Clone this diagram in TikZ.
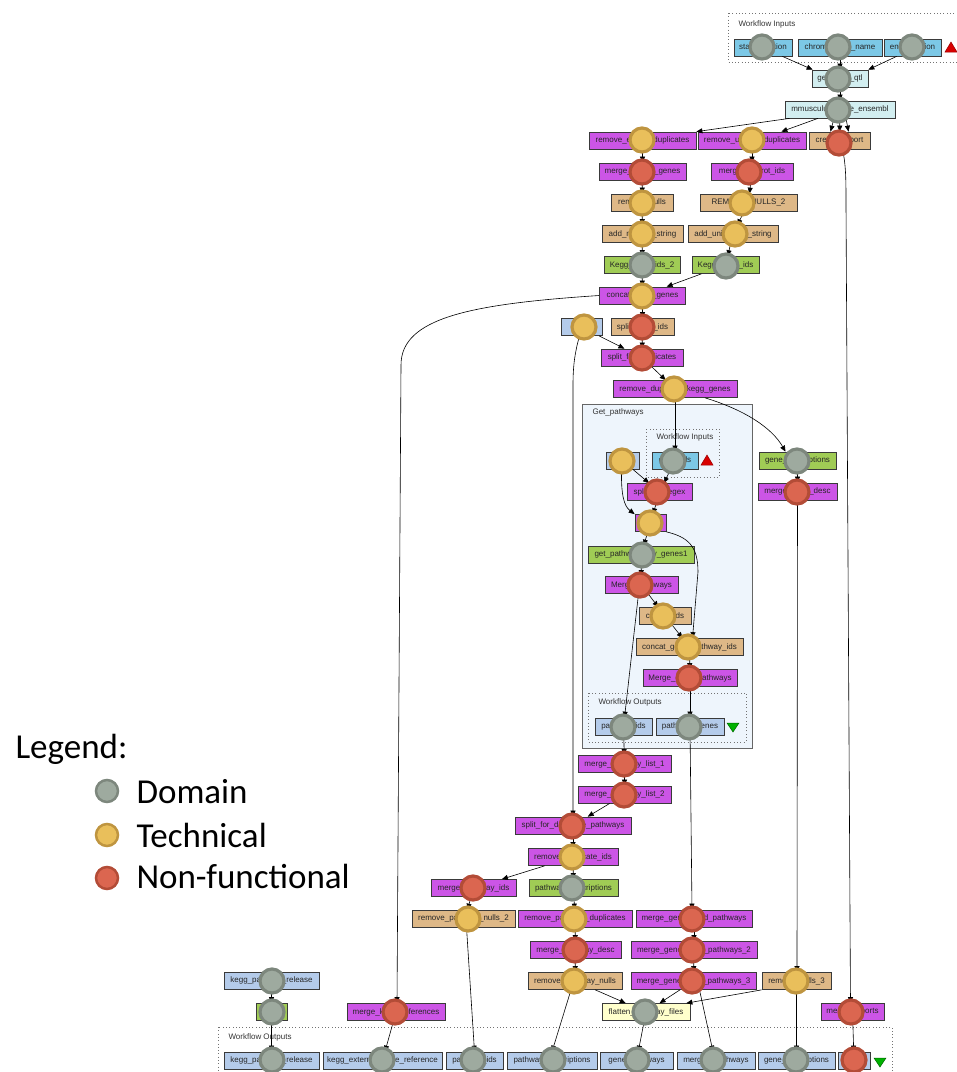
\documentclass[tikz,border=0pt]{standalone}
\usepackage{fontspec}
\setmainfont{Liberation Sans}
\newfontfamily\legendfont{Carlito}
\usetikzlibrary{arrows.meta}
\definecolor{procpurple}{HTML}{CC55E6}
\definecolor{proctan}{HTML}{DEB887}
\definecolor{procgreen}{HTML}{A0CC55}
\definecolor{inblue}{HTML}{7CC8E6}
\definecolor{lightcyan}{HTML}{D2EEF0}
\definecolor{outblue}{HTML}{B4CBEA}
\definecolor{flatyellow}{HTML}{FFFFCC}
\definecolor{boxline}{HTML}{3A3A3A}
\definecolor{subfill}{HTML}{EEF5FC}
\definecolor{domfill}{HTML}{9EAA9F}
\definecolor{domline}{HTML}{7D877D}
\definecolor{techfill}{HTML}{E9BF5B}
\definecolor{techline}{HTML}{BF9540}
\definecolor{nffill}{HTML}{DB6650}
\definecolor{nfline}{HTML}{B34C37}

\begin{document}
\begin{tikzpicture}[x=1pt,y=-1pt,
  box/.style={draw=boxline, line width=0.7pt, minimum height=17pt, inner sep=0pt, font=\fontsize{8}{9}\selectfont, text=black!85},
  purpbox/.style={box, fill=procpurple},
  tanbox/.style={box, fill=proctan},
  greenbox/.style={box, fill=procgreen},
  inbox/.style={box, fill=inblue},
  cyanbox/.style={box, fill=lightcyan},
  outbox/.style={box, fill=outblue},
  flatbox/.style={box, fill=flatyellow},
  domcirc/.style={circle, draw=domline, fill=domfill, line width=3.2pt, minimum size=24pt, inner sep=0pt},
  techcirc/.style={domcirc, draw=techline, fill=techfill},
  nfcirc/.style={domcirc, draw=nfline, fill=nffill},
  frame/.style={draw=black!55, line width=0.8pt, dash pattern=on 0.8pt off 2.5pt},
  framelabel/.style={anchor=base west, font=\fontsize{8}{9}\selectfont, text=black!80},
  flow/.style={-{Triangle[length=6pt,width=5pt]}, line width=0.6pt, draw=black},
  legtext/.style={anchor=base west, font=\legendfont\fontsize{35}{40}\selectfont}]
\useasboundingbox (0,0) rectangle (957,1072);

%% frames and the nested workflow
\draw[frame] (728,13) rectangle (962,62);
\node[framelabel] (wfin) at (735,26) {Workflow Inputs};
\draw[draw=black!60, fill=subfill, line width=0.8pt] (582,404) rectangle (752,748);
\node[framelabel] (gp) at (589,414) {Get\_pathways};
\draw[frame] (646,429) rectangle (719,477);
\node[framelabel] (gpin) at (653,439) {Workflow Inputs};
\draw[frame] (588,693) rectangle (746,742);
\node[framelabel] (gpout) at (595,704) {Workflow Outputs};
\draw[frame] (218,1027) rectangle (892,1085);
\node[framelabel] (wfout) at (225,1039) {Workflow Outputs};

%% triangles of the input and output ports
\draw[fill=red!85!black, draw=red!60!black, line width=0.5pt] (945,52) -- (957,52) -- (951,42) -- cycle;
\draw[fill=red!85!black, draw=red!60!black, line width=0.5pt] (701,465) -- (713,465) -- (707,455) -- cycle;
\draw[fill=green!70!black, draw=green!40!black, line width=0.5pt] (727,723) -- (739,723) -- (733,732) -- cycle;
\draw[fill=green!70!black, draw=green!40!black, line width=0.5pt] (874,1058) -- (886,1058) -- (880,1067) -- cycle;

%% processors
\node[inbox, minimum width=58pt] (sp) at (763,47.5) {start\_position};
\node[inbox, minimum width=84pt] (chr) at (840,47.5) {chromosome\_name};
\node[inbox, minimum width=57pt] (ep) at (912.5,47.5) {end\_position};
\node[cyanbox, minimum width=56pt] (qtl) at (840,78.5) {genes\_in\_qtl};
\node[cyanbox, minimum width=110pt] (mm) at (840,109.5) {mmusculus\_gene\_ensembl};
\node[purpbox, minimum width=107pt] (rme) at (642.5,140.5) {remove\_entrez\_duplicates};
\node[purpbox, minimum width=108pt] (rmu) at (752,140.5) {remove\_uniprot\_duplicates};
\node[tanbox, minimum width=61pt] (crep) at (839.5,140.5) {create\_report};
\node[purpbox, minimum width=87pt] (mge) at (642.5,171.5) {merge\_entrez\_genes};
\node[purpbox, minimum width=82pt] (mup) at (752,171.5) {merge\_uniprot\_ids};
\node[tanbox, minimum width=62pt] (rn1) at (642,202.5) {remove\_nulls};
\node[tanbox, minimum width=97pt] (rn2) at (748.5,202.5) {REMOVE\_NULLS\_2};
\node[tanbox, minimum width=81pt] (an1) at (642.5,234) {add\_ncbi\_to\_string};
\node[tanbox, minimum width=90pt] (an2) at (733,234) {add\_uniprot\_to\_string};
\node[greenbox, minimum width=76pt] (kg2) at (642,265) {Kegg\_gene\_ids\_2};
\node[greenbox, minimum width=67pt] (kg1) at (725.5,265) {Kegg\_gene\_ids};
\node[purpbox, minimum width=86pt] (cat) at (642.5,295.5) {concat\_kegg\_genes};
\node[outbox, minimum width=41pt] (rx) at (581.5,327) {regex};
\node[tanbox, minimum width=63pt] (sid) at (642.5,327) {split\_gene\_ids};
\node[purpbox, minimum width=82pt] (sfd) at (642,357.5) {split\_for\_duplicates};
\node[purpbox, minimum width=124pt] (rdk) at (675,389) {remove\_duplicate\_kegg\_genes};
\node[outbox, minimum width=33pt] (gx) at (622.5,460.5) {};
\node[inbox, minimum width=46pt] (gin) at (675,460.5) {gene\_ids};
\node[purpbox, minimum width=65pt] (spx) at (659.5,492) {split\_by\_regex};
\node[purpbox, minimum width=31pt] (sm) at (650.5,523) {};
\node[greenbox, minimum width=106pt] (gpg) at (641,554.5) {get\_pathways\_by\_genes1};
\node[purpbox, minimum width=73pt] (mpw) at (641.5,585) {Merge\_pathways};
\node[tanbox, minimum width=52pt] (cid) at (665,616) {concat\_ids};
\node[tanbox, minimum width=107pt] (cgp) at (689.5,647) {concat\_gene\_pathway\_ids};
\node[purpbox, minimum width=94pt] (mgp) at (690,678) {Merge\_gene\_pathways};
\node[outbox, minimum width=57pt] (pid) at (623.5,726.5) {pathway\_ids};
\node[outbox, minimum width=68pt] (pgn) at (690,726.5) {pathway\_genes};
\node[greenbox, minimum width=77pt] (gdesc) at (797.5,460.5) {gene\_descriptions};
\node[purpbox, minimum width=79pt] (mgd) at (797.5,491.5) {merge\_gene\_desc};
\node[purpbox, minimum width=93pt] (ml1) at (624.5,764) {merge\_pathway\_list\_1};
\node[purpbox, minimum width=93pt] (ml2) at (624.5,794.5) {merge\_pathway\_list\_2};
\node[purpbox, minimum width=116pt] (sfp) at (573,825.5) {split\_for\_duplicate\_pathways};
\node[purpbox, minimum width=90pt] (rdi) at (573,857) {remove\_duplicate\_ids};
\node[purpbox, minimum width=85pt] (mpi) at (473.5,888) {merge\_pathway\_ids};
\node[greenbox, minimum width=89pt] (pwd) at (573.5,888) {pathway\_descriptions};
\node[tanbox, minimum width=103pt] (rpn2) at (463.5,918.5) {remove\_pathway\_nulls\_2};
\node[purpbox, minimum width=114pt] (rpd) at (575,918.5) {remove\_pathway\_duplicates};
\node[purpbox, minimum width=116pt] (mgap) at (694,918.5) {merge\_genes\_and\_pathways};
\node[purpbox, minimum width=91pt] (mpd) at (575.5,950) {merge\_pathway\_desc};
\node[purpbox, minimum width=126pt] (mgap2) at (694,950) {merge\_genes\_and\_pathways\_2};
\node[tanbox, minimum width=94pt] (rpn) at (575,981) {remove\_pathway\_nulls};
\node[purpbox, minimum width=125pt] (mgap3) at (693.5,981) {merge\_genes\_and\_pathways\_3};
\node[tanbox, minimum width=69pt] (rn3) at (796.5,981) {remove\_nulls\_3};
\node[flatbox, minimum width=88pt] (flat) at (646,1012) {flatten\_pathway\_files};
\node[purpbox, minimum width=63pt] (mrep) at (852.5,1012) {merge\_reports};
\node[purpbox, minimum width=98pt] (mkr) at (396,1012) {merge\_kegg\_references};
\node[outbox, minimum width=95pt] (kpr) at (271.5,980.5) {kegg\_pathway\_release};
\node[greenbox, minimum width=31pt] (gsm) at (271.5,1012) {};

%% workflow outputs
\node[outbox, minimum width=95pt] (o1) at (271.5,1060.5) {kegg\_pathway\_release};
\node[outbox, minimum width=119pt] (o2) at (382.5,1060.5) {kegg\_external\_gene\_reference};
\node[outbox, minimum width=57pt] (o3) at (474.5,1060.5) {pathway\_ids};
\node[outbox, minimum width=90pt] (o4) at (552,1060.5) {pathway\_descriptions};
\node[outbox, minimum width=73pt] (o5) at (636.5,1060.5) {gene\_pathways};
\node[outbox, minimum width=78pt] (o6) at (716,1060.5) {merged\_pathways};
\node[outbox, minimum width=77pt] (o7) at (796.5,1060.5) {gene\_descriptions};
\node[outbox, minimum width=32pt] (o8) at (854,1060.5) {};

%% data links
\draw[flow] ([xshift=-10pt]sp.south east) -- ([xshift=1pt]qtl.north west);
\draw[flow] (chr) -- (qtl);
\draw[flow] ([xshift=13pt]ep.south west) -- (qtl.north east);
\draw[flow] (qtl) -- (mm);
\draw[flow] ([xshift=5pt]mm.south west) -- (rme.north east);
\draw[flow] ([xshift=-22pt]mm.south) -- ([xshift=-25pt]rmu.north east);
\draw[flow] ([xshift=-6pt]mm.south) -- ([xshift=-9pt]crep.north);
\draw[flow] (mm) -- (crep);
\draw[flow] ([xshift=6pt]mm.south) -- ([xshift=9pt]crep.north);
\draw[flow] (rme) -- (mge);
\draw[flow] (mge) -- (rn1);
\draw[flow] (rn1) -- (an1);
\draw[flow] (an1) -- (kg2);
\draw[flow] (kg2) -- (cat);
\draw[flow] (rmu) -- (mup);
\draw[flow] (mup) -- (rn2);
\draw[flow] (rn2) -- (an2);
\draw[flow] (an2) -- (kg1);
\draw[flow] (kg1) -- (cat);
\draw[flow] (cat) -- (sid);
\draw[flow] (sid) -- (sfd);
\draw[flow] (rx) -- (sfd);
\draw[flow] (sfd) -- (rdk);
\draw[flow] (cat.west) .. controls (470,304) and (401,318) .. (401,365) -- ([xshift=1pt]mkr.north);
\draw[flow] ([xshift=-2pt]rx.south) .. controls (575,352) and (573,365) .. (573,385) -- (sfp.north);
\draw[flow] (rdk) -- (gin);
\draw[flow] ([xshift=30pt]rdk.south) .. controls (745,410) and (772,428) .. ([xshift=-12pt]gdesc.north);
\draw[flow] (gx) -- (spx);
\draw[flow] (gin) -- (spx);
\draw[flow] ([xshift=-1pt]gx.south) .. controls (621,495) and (624,506) .. (sm.north west);
\draw[flow] (spx) -- (sm);
\draw[flow] (sm) -- (gpg);
\draw[flow] (sm.south east) .. controls (688,537) and (698,546) .. (698,572) -- ([xshift=3pt]cgp.north);
\draw[flow] (gpg) -- (mpw);
\draw[flow] (mpw) -- (cid);
\draw[flow] (cid) -- (cgp);
\draw[flow] ([xshift=-3pt]mpw.south) -- ([xshift=1pt]pid.north);
\draw[flow] (cgp) -- (mgp);
\draw[flow] (mgp) -- (pgn);
\draw[flow] (gdesc) -- (mgd);
\draw[flow] (pid) -- (ml1);
\draw[flow] (ml1) -- (ml2);
\draw[flow] (ml2) -- (sfp);
\draw[flow] (pgn) -- ([xshift=-2pt]mgap.north);
\draw[flow] (sfp) -- (rdi);
\draw[flow] (rdi) -- (mpi);
\draw[flow] (rdi) -- (pwd);
\draw[flow] (mpi) -- ([xshift=4pt]rpn2.north);
\draw[flow] (pwd) -- (rpd);
\draw[flow] (rpd) -- (mpd);
\draw[flow] (mpd) -- (rpn);
\draw[flow] (mgap) -- (mgap2);
\draw[flow] (mgap2) -- (mgap3);
\draw[flow] (mgd) -- ([xshift=0.5pt]rn3.north);
\draw[flow] ([xshift=3pt]crep.south) .. controls (846,165) and (846,180) .. (846,205) -- ([xshift=-2pt]mrep.north);
\draw[flow] (rpn) -- (flat);
\draw[flow] (mgap3) -- (flat);
\draw[flow] (rn3.south west) -- ([xshift=-4pt]flat.north east);
\draw[flow] ([xshift=3pt]rpn2.south) -- (o3.north);
\draw[flow] ([xshift=-4pt]rpn.south) -- (o4.north);
\draw[flow] (flat) -- (o5);
\draw[flow] ([xshift=6pt]mgap3.south) -- ([xshift=-3pt]o6.north);
\draw[flow] (rn3) -- (o7);
\draw[flow] (mrep) -- (o8);
\draw[flow] (mkr) -- (o2);
\draw[flow] (kpr) -- (gsm);
\draw[flow] (gsm) -- (o1);

%% annotation circles
\node[domcirc] (c-sp) at (762,47) {};
\node[domcirc] (c-chr) at (838,47) {};
\node[domcirc] (c-ep) at (912,47) {};
\node[domcirc] (c-qtl) at (838,79) {};
\node[domcirc] (c-mm) at (838,110) {};
\node[techcirc] (c-rme) at (642,140) {};
\node[techcirc] (c-rmu) at (752,140) {};
\node[nfcirc] (c-crep) at (839,143) {};
\node[nfcirc] (c-mge) at (642,172) {};
\node[nfcirc] (c-mup) at (749,172) {};
\node[techcirc] (c-rn1) at (642,203) {};
\node[techcirc] (c-rn2) at (742,203) {};
\node[techcirc] (c-an1) at (642,234) {};
\node[techcirc] (c-an2) at (735,234) {};
\node[domcirc] (c-kg2) at (642,265) {};
\node[domcirc] (c-kg1) at (726,266) {};
\node[techcirc] (c-cat) at (642,296) {};
\node[techcirc] (c-rx) at (584,327) {};
\node[nfcirc] (c-sid) at (642,327) {};
\node[nfcirc] (c-sfd) at (642,358) {};
\node[techcirc] (c-rdk) at (674,389) {};
\node[techcirc] (c-gx) at (622,461) {};
\node[domcirc] (c-gin) at (673,461) {};
\node[nfcirc] (c-spx) at (657,492) {};
\node[techcirc] (c-sm) at (650,523) {};
\node[domcirc] (c-gpg) at (642,555) {};
\node[nfcirc] (c-mpw) at (640,585) {};
\node[techcirc] (c-cid) at (663,616) {};
\node[techcirc] (c-cgp) at (688,647) {};
\node[nfcirc] (c-mgp) at (689,678) {};
\node[domcirc] (c-pid) at (623,727) {};
\node[domcirc] (c-pgn) at (689,727) {};
\node[domcirc] (c-gdesc) at (797,461) {};
\node[nfcirc] (c-mgd) at (797,492) {};
\node[nfcirc] (c-ml1) at (624,764) {};
\node[nfcirc] (c-ml2) at (624,795) {};
\node[nfcirc] (c-sfp) at (572,826) {};
\node[techcirc] (c-rdi) at (572,857) {};
\node[nfcirc] (c-mpi) at (473,888) {};
\node[domcirc] (c-pwd) at (572,888) {};
\node[techcirc] (c-rpn2) at (468,919) {};
\node[techcirc] (c-rpd) at (574,919) {};
\node[nfcirc] (c-mgap) at (692,919) {};
\node[nfcirc] (c-mpd) at (575,950) {};
\node[nfcirc] (c-mgap2) at (692,950) {};
\node[techcirc] (c-rpn) at (574,981) {};
\node[nfcirc] (c-mgap3) at (692,981) {};
\node[techcirc] (c-rn3) at (796,981) {};
\node[domcirc] (c-flat) at (645,1012) {};
\node[nfcirc] (c-mrep) at (851,1012) {};
\node[nfcirc] (c-mkr) at (395,1012) {};
\node[domcirc] (c-kpr) at (272,981) {};
\node[domcirc] (c-gsm) at (272,1012) {};
\node[domcirc] (c-o1) at (272,1060) {};
\node[domcirc] (c-o2) at (382,1060) {};
\node[domcirc] (c-o3) at (473,1060) {};
\node[domcirc] (c-o4) at (553,1060) {};
\node[domcirc] (c-o5) at (637,1060) {};
\node[domcirc] (c-o6) at (713,1060) {};
\node[domcirc] (c-o7) at (796,1060) {};
\node[nfcirc] (c-o8) at (854,1060) {};

%% legend
\node[legtext] (leg) at (12,758) {Legend:};
\node[domcirc, minimum size=22pt, line width=2.5pt] (leg-d) at (107,791) {};
\node[legtext] (leg-dt) at (133,803) {Domain};
\node[techcirc, minimum size=22pt, line width=2.5pt] (leg-t) at (107,835) {};
\node[legtext] (leg-tt) at (133,847) {Technical};
\node[nfcirc, minimum size=22pt, line width=2.5pt] (leg-n) at (107,878) {};
\node[legtext] (leg-nt) at (133,888) {Non-functional};
\end{tikzpicture}
\end{document}
